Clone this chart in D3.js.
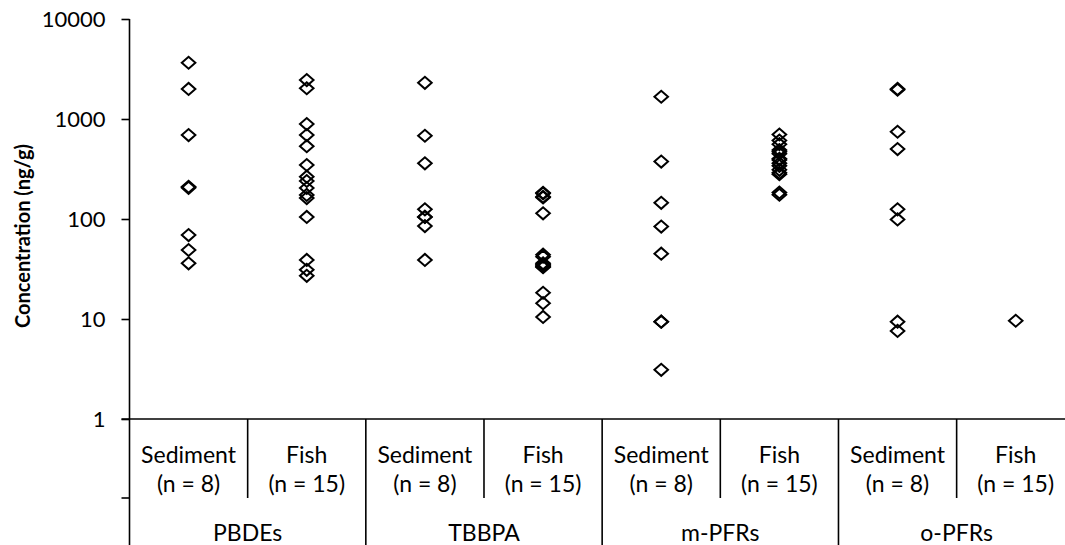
<!DOCTYPE html>
<html>
<head>
<meta charset="utf-8">
<script src="https://cdn.jsdelivr.net/npm/d3@7"></script>
<style>
  html, body { margin: 0; padding: 0; background: #fff; }
  svg { display: block; }
  text { font-family: Lato, "Open Sans", "DejaVu Sans", sans-serif; fill: #000; }
</style>
</head>
<body>
<svg id="chart" width="1065" height="545"></svg>
<script>
// Compound classes and sample matrices on the category axis
const groups = ["PBDEs", "TBBPA", "m-PFRs", "o-PFRs"];
const matrices = ["Sediment", "Fish"];
const sampleCounts = ["(n = 8)", "(n = 15)"];
const yTickValues = [1, 10, 100, 1000, 10000];

// Concentrations (ng/g), one array per class and matrix
const pbdeSediment = [3650, 2000, 690, 210, 205, 69, 49, 36];
const pbdeFish = [2450, 2030, 890, 690, 535, 347, 265, 240, 204, 174, 162, 105, 39, 31, 27];
const tbbpaSediment = [2300, 680, 360, 125, 105, 105, 85, 39];
const tbbpaFish = [183, 180, 167, 164, 114, 44, 42, 36, 35, 34, 33.5, 33, 18.3, 14.4, 10.5];
const mpfrSediment = [1670, 375, 145, 84, 45, 9.4, 9.4, 3.1];
const mpfrFish = [700, 610, 560, 490, 470, 450, 400, 390, 360, 340, 310, 290, 280, 184, 175];
const opfrSediment = [2000, 1960, 745, 500, 125, 99, 9.4, 7.6];
const opfrFish = [9.6];

const seriesValues = [
  pbdeSediment, pbdeFish,
  tbbpaSediment, tbbpaFish,
  mpfrSediment, mpfrFish,
  opfrSediment, opfrFish
];

// One key per column: group + matrix
const columns = [];
groups.forEach((g, gi) => matrices.forEach((m, mi) => {
  columns.push({ key: g + "|" + m, group: g, matrix: m, count: sampleCounts[mi], values: seriesValues[gi * 2 + mi] });
}));

const svg = d3.select("#chart");
const axisX = 129.5;
const axisY = 419;
const plotTop = 19;
const plotRight = 1074.8;

const x = d3.scaleBand().domain(columns.map(c => c.key)).range([axisX, plotRight]);
const y = d3.scaleLog().domain([1, 10000]).range([axisY, plotTop]);

// Y axis with log ticks
const yAxis = svg.append("g")
  .attr("transform", `translate(${axisX},0)`)
  .call(d3.axisLeft(y).tickValues(yTickValues).tickFormat(d3.format("d")).tickSize(8).tickPadding(16));
yAxis.select(".domain").attr("stroke", "#000").attr("stroke-width", 1.6).attr("d", `M0,${plotTop}V${axisY}`);
yAxis.selectAll(".tick line").attr("stroke", "#000").attr("stroke-width", 1.6);
yAxis.selectAll(".tick text")
  .attr("font-size", 22)
  .attr("dy", "0.36em")
  .style("font-family", "Lato, 'Open Sans', sans-serif");

// Horizontal baseline at the bottom of the plot
svg.append("line")
  .attr("x1", axisX - 8).attr("x2", plotRight)
  .attr("y1", axisY).attr("y2", axisY)
  .attr("stroke", "#000").attr("stroke-width", 1.6);

// Y axis line continues down through the category rows
svg.append("line")
  .attr("x1", axisX).attr("x2", axisX)
  .attr("y1", axisY).attr("y2", 545)
  .attr("stroke", "#000").attr("stroke-width", 1.6);

// Short tick marking the row boundary on the category axis
const rowBoundary = 498;
svg.append("line")
  .attr("x1", axisX - 8).attr("x2", axisX)
  .attr("y1", rowBoundary).attr("y2", rowBoundary)
  .attr("stroke", "#000").attr("stroke-width", 1.6);

// Dividers: between matrices (short) and between groups (full height)
columns.forEach((c, i) => {
  if (i === 0) return;
  const xPos = x(c.key);
  const isGroupEdge = c.matrix === matrices[0];
  svg.append("line")
    .attr("x1", xPos).attr("x2", xPos)
    .attr("y1", axisY).attr("y2", isGroupEdge ? 545 : rowBoundary)
    .attr("stroke", "#000").attr("stroke-width", 1.6);
});

// Category labels (two lines) and group labels
const labels = svg.append("g").attr("font-size", 23).attr("text-anchor", "middle");
columns.forEach(c => {
  const cx = x(c.key) + x.bandwidth() / 2;
  labels.append("text").attr("x", cx).attr("y", 463).text(c.matrix);
  labels.append("text").attr("x", cx).attr("y", 492).text(c.count);
});
groups.forEach(g => {
  const x0 = x(g + "|" + matrices[0]);
  const x1 = x(g + "|" + matrices[1]) + x.bandwidth();
  labels.append("text").attr("x", (x0 + x1) / 2).attr("y", 541).text(g);
});

// Y axis title
svg.append("text")
  .attr("transform", `translate(30,${(plotTop + axisY) / 2 + 17}) rotate(-90)`)
  .attr("text-anchor", "middle")
  .attr("font-size", 20)
  .attr("font-weight", "bold")
  .text("Concentration (ng/g)");

// Open diamond markers
const diamond = "M-6.8,0L0,-6L6.8,0L0,6Z";
const points = columns.flatMap(c => c.values.map(v => ({ key: c.key, v })));
svg.append("g")
  .selectAll("path")
  .data(points)
  .join("path")
  .attr("d", diamond)
  .attr("transform", d => `translate(${x(d.key) + x.bandwidth() / 2},${y(d.v)})`)
  .attr("fill", "none")
  .attr("stroke", "#000")
  .attr("stroke-width", 2);
</script>
</body>
</html>
